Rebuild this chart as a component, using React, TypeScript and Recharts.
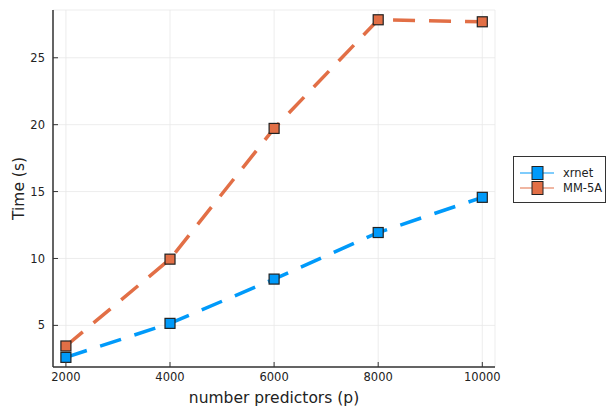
import { CartesianGrid, Line, LineChart, XAxis, YAxis } from "recharts";

const predictors = [2000, 4000, 6000, 8000, 10000];
const xrnetTimes = [2.61, 5.15, 8.46, 11.94, 14.57];
const mm5aTimes = [3.46, 9.95, 19.72, 27.84, 27.69];
const xTicks = [2000, 4000, 6000, 8000, 10000];
const yTicks = [5, 10, 15, 20, 25];

const BLUE = "#009AFA";
const ORANGE = "#E26F46";
const FONT = "DejaVu Sans";

const data = predictors.map((p, i) => ({ p, xrnet: xrnetTimes[i], mm5a: mm5aTimes[i] }));

function SquareDot(props: any) {
  const { cx, cy, fill } = props;
  if (cx == null || cy == null) return null;
  return <rect x={cx - 5} y={cy - 5} width={10} height={10} fill={fill} stroke="#222" strokeWidth={1.2} />;
}

function YTick(props: any) {
  const { x, y, payload } = props;
  const axisX = x + 8;
  return (
    <g>
      <line x1={axisX} x2={axisX + 5} y1={y} y2={y} stroke="#333" strokeWidth={1} />
      <text x={x} y={y} dy="0.35em" textAnchor="end" fontSize={11.5} fontFamily={FONT} fill="#222">
        {payload.value}
      </text>
    </g>
  );
}

function XTick(props: any) {
  const { x, y, payload } = props;
  const axisY = y - 5;
  return (
    <g>
      <line x1={x} x2={x} y1={axisY} y2={axisY - 5} stroke="#333" strokeWidth={1} />
      <text x={x} y={y} dy="0.75em" textAnchor="middle" fontSize={11.5} fontFamily={FONT} fill="#222">
        {payload.value}
      </text>
    </g>
  );
}

function LegendBox() {
  const items = [
    { name: "xrnet", color: BLUE },
    { name: "MM-5A", color: ORANGE },
  ];
  return (
    <svg width={94} height={48} style={{ position: "absolute", left: 513, top: 156 }}>
      <rect x={0.5} y={0.5} width={92} height={46} fill="#fff" stroke="#333" strokeWidth={1} />
      {items.map((it, i) => {
        const cy = 17 + i * 15;
        return (
          <g key={it.name}>
            <line x1={7} x2={41} y1={cy} y2={cy} stroke={it.color} strokeWidth={1.2} />
            <rect x={19} y={cy - 6.5} width={11} height={13} fill={it.color} stroke="#222" strokeWidth={1} />
            <text x={50} y={cy} dy="0.35em" fontSize={11.5} fontFamily={FONT} fill="#222">
              {it.name}
            </text>
          </g>
        );
      })}
    </svg>
  );
}

export default function App() {
  return (
    <div style={{ position: "absolute", left: 0, top: 0, width: 607, height: 409, background: "#fff" }}>
      <LineChart width={607} height={409} data={data} margin={{ top: 10, right: 112, bottom: 0, left: 0 }}>
        <CartesianGrid stroke="#e8e8e8" strokeWidth={0.8} />
        <XAxis
          dataKey="p"
          type="number"
          domain={[1752, 10244]}
          ticks={xTicks}
          tickLine={false}
          tickSize={0}
          tickMargin={5}
          tick={<XTick />}
          height={42}
          axisLine={{ stroke: "#333", strokeWidth: 1.5 }}
          allowDataOverflow
          label={{ value: "number predictors (p)", position: "insideBottom", offset: 6, fontSize: 15.5, fontFamily: FONT, fill: "#222" }}
        />
        <YAxis
          type="number"
          domain={[1.89, 28.57]}
          ticks={yTicks}
          tickLine={false}
          tickSize={0}
          tickMargin={8}
          tick={<YTick />}
          width={53}
          axisLine={{ stroke: "#333", strokeWidth: 1.5 }}
          allowDataOverflow
          label={{ value: "Time (s)", angle: -90, position: "insideLeft", offset: 18, fontSize: 15.5, fontFamily: FONT, fill: "#222", style: { textAnchor: "middle" } }}
        />
        <Line
          dataKey="xrnet"
          stroke={BLUE}
          strokeWidth={3.5}
          strokeDasharray="22 14"
          dot={<SquareDot fill={BLUE} />}
          isAnimationActive={false}
        />
        <Line
          dataKey="mm5a"
          stroke={ORANGE}
          strokeWidth={3.5}
          strokeDasharray="22 14"
          dot={<SquareDot fill={ORANGE} />}
          isAnimationActive={false}
        />
      </LineChart>
      <LegendBox />
    </div>
  );
}
